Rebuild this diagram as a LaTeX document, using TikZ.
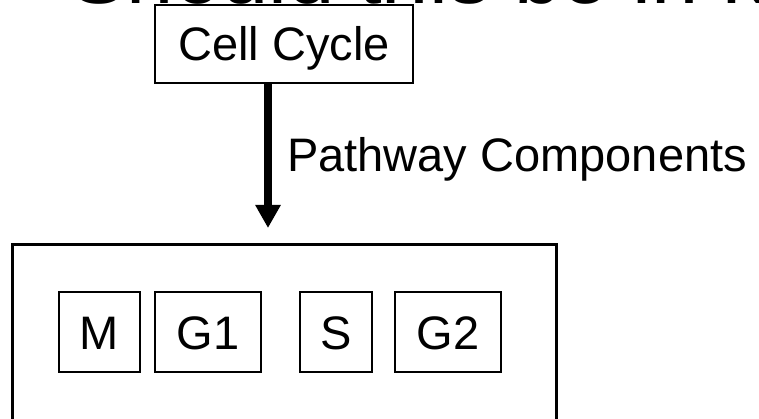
\documentclass[tikz,border=0pt]{standalone}
\usepackage{fontspec}
\setmainfont{Liberation Sans}
\usepackage{tikz}
\usetikzlibrary{arrows.meta,positioning}
\tikzstyle{arrow}=[-{Triangle[length=23pt,width=24pt]},line width=8pt,draw=black]
\tikzstyle{phase}=[rectangle,draw=black,line width=2pt,minimum height=80pt,
			  inner sep=0pt,text height=34pt,text depth=0pt]
\tikzstyle{pathway}=[rectangle,draw=black,line width=2pt,minimum width=258pt,
			  minimum height=78pt,inner sep=0pt,text height=34pt,text depth=0pt]
\tikzstyle{container}=[draw=black,line width=3pt]

\begin{document}
\begin{tikzpicture}[x=1pt,y=-1pt,font=\fontsize{47}{56}\selectfont]
	\useasboundingbox (0,0) rectangle (759,419);
	\clip (0,0) rectangle (759,419);

	\node (title) [anchor=base west,inner sep=0pt,
		font=\fontsize{85}{100}\selectfont] at (70,3.5) {Should this be in k};
	\node[pathway] (cell) at (284,44) {Cell Cycle};
	\coordinate (tip) at (268,228);
	\draw[arrow] (cell.south -| tip) -- (tip);
	\node (comp) [anchor=base west,inner sep=0pt] at (287,172) {Pathway Components};

	\draw[container] (12,245) rectangle (556,440);
	\node[phase,minimum width=81pt] (m) at (99.5,332) {M};
	\node[phase,minimum width=106pt] (g1) at (208,332) {G1};
	\node[phase,minimum width=72pt] (s) at (336,332) {S};
	\node[phase,minimum width=106pt] (g2) at (448,332) {G2};
\end{tikzpicture}
\end{document}
